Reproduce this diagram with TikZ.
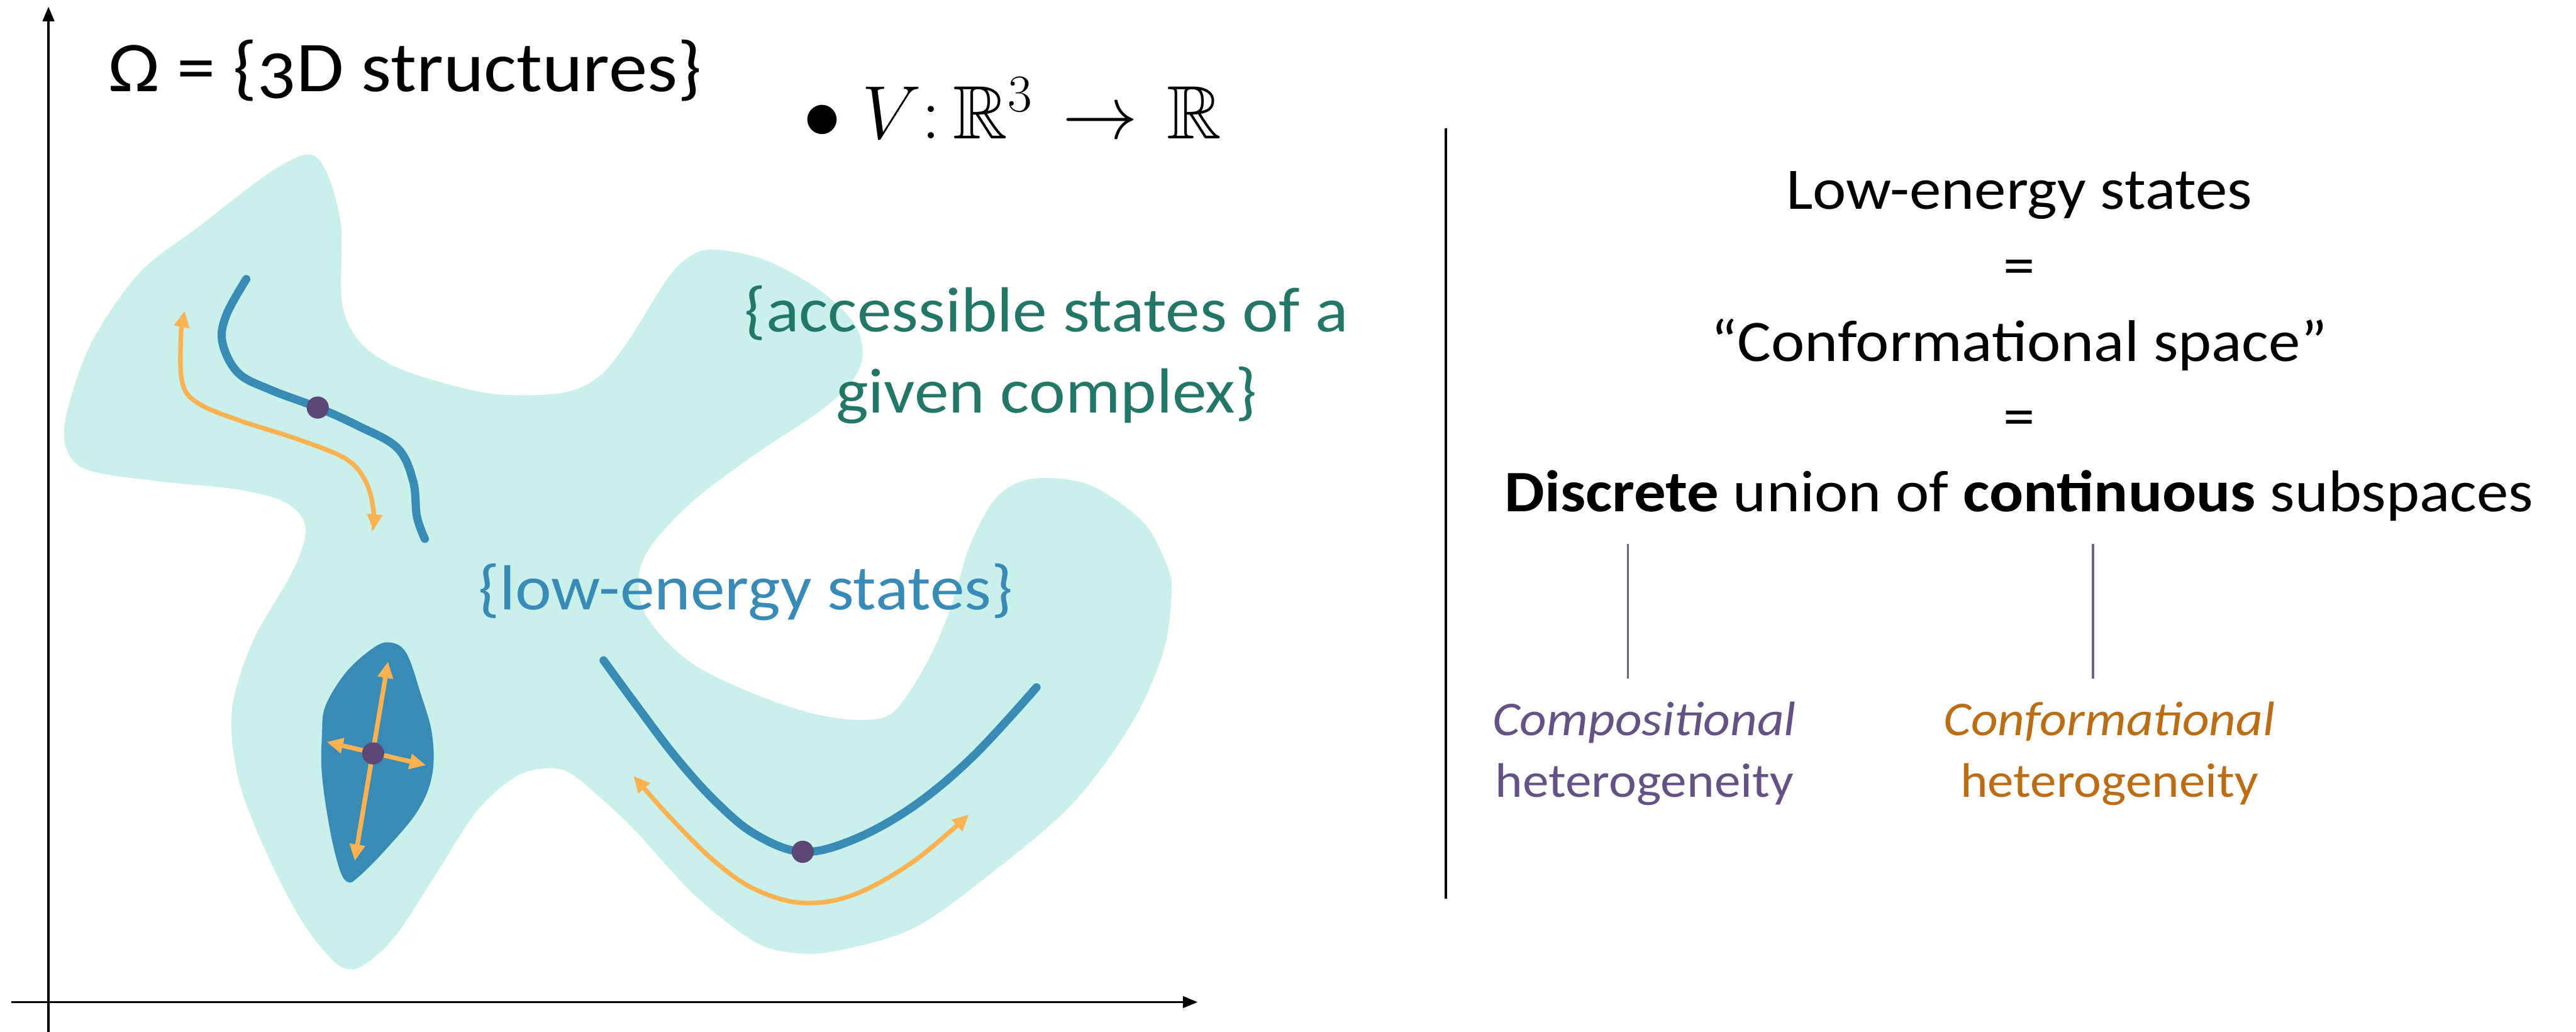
\RequirePackage{fix-cm}
\documentclass[tikz,border=0pt]{standalone}
\usepackage{amssymb}
\usepackage{fontspec}
\setmainfont{Carlito}[FakeStretch=1.08]
\newfontfamily\oldnum{Carlito}[FakeStretch=1.08,Numbers=OldStyle]
\usetikzlibrary{arrows.meta}
\definecolor{lightblob}{RGB}{202,240,235}
\definecolor{darkblob}{RGB}{55,139,181}
\definecolor{curveblue}{RGB}{55,139,181}
\definecolor{lowtxt}{RGB}{57,139,183}
\definecolor{acctxt}{RGB}{34,119,104}
\definecolor{arrorange}{RGB}{252,178,80}
\definecolor{dotpurple}{RGB}{92,71,118}
\definecolor{comptxt}{RGB}{100,82,135}
\definecolor{conftxt}{RGB}{188,108,18}
\definecolor{linkpurple}{RGB}{110,95,140}
\tikzset{
  txt/.style={inner sep=0pt, outer sep=0pt},
  axisline/.style={line width=1.5pt, black, -{Triangle[length=9pt,width=7pt]}},
  divider/.style={line width=1.3pt, black},
  linkline/.style={line width=1.2pt, linkpurple},
  bluecurve/.style={line width=5pt, curveblue, line cap=round},
  orangearr/.style={line width=2.8pt, arrorange, {Triangle[length=10pt,width=9pt]}-{Triangle[length=10pt,width=9pt]}},
  statedot/.style={circle, fill=dotpurple, minimum size=13.5pt, inner sep=0pt},
  bigfont/.style={font=\fontsize{43.5}{52}\selectfont},
  midfont/.style={font=\fontsize{38.8}{46}\selectfont},
  rightfont/.style={font=\fontsize{35.8}{43}\selectfont},
  smallfont/.style={font=\fontsize{29.5}{35}\selectfont},
  mathfont/.style={font=\fontsize{46}{55}\selectfont},
}
\begin{document}
\begin{tikzpicture}[x=1pt,y=-1pt]
\useasboundingbox (0,0) rectangle (1568,628);
\fill[white] (0,0) rectangle (1568,628);

% light region: accessible states
\fill[lightblob] plot[smooth cycle, tension=0.55] coordinates {
 (193,96) (207,133) (208,183) (218,207) (238,222) (266,232) (302,240) (343,239)
 (366,228) (384,205) (406,170) (420,156) (435,152) (465,158) (498,176) (520,197)
 (525,217) (517,234) (498,251) (459,277) (423,304) (398,330) (389,350) (394,376)
 (423,405) (471,427) (508,437) (537,437) (551,425) (568,396) (580,366) (590,333)
 (604,306) (619,294) (638,291) (665,296) (696,318) (711,346) (713,363) (708,397)
 (689,440) (653,489) (604,531) (556,565) (508,579) (483,580) (459,573) (423,545)
 (387,506) (367,487) (346,470) (329,468) (312,474) (290,494) (266,531) (242,568)
 (225,585) (214,590) (203,585) (184,561) (164,523) (147,481) (141,447) (143,422)
 (155,388) (179,346) (186,321) (174,306) (145,298) (97,293) (53,286) (40,272)
 (41,250) (56,208) (85,166) (121,138) (169,102)};

% dark region
\fill[darkblob] plot[smooth cycle, tension=0.6] coordinates {
 (236,391) (247,397) (256,422) (263,447) (263,472) (254,494) (234,518) (218,534)
 (212,537) (207,530) (201,506) (196,472) (196,447) (198,430) (210,410) (225,396)};

% blue curves
\draw[bluecurve] plot[smooth, tension=0.6] coordinates {
 (149.9,169.9) (137.8,191.7) (135.4,208.5) (145,227) (164.4,237.2) (193.4,248.1)
 (217.5,259) (241.7,272.5) (251.4,292.6) (253.8,314.5) (258.6,328)};
\draw[bluecurve] plot[smooth, tension=0.6] coordinates {
 (367.4,402) (386.8,428.5) (411,460.5) (435.1,487.4) (459.3,507.6) (488.3,518.5)
 (519.7,511) (556,490.8) (592.2,460.5) (630.9,418.4)};

% orange arrows
\draw[orangearr] plot[smooth, tension=0.6] coordinates {
 (112.4,189.2) (110,208.5) (111.2,233.8) (120.9,245.6) (145,255.7) (181.3,267.4)
 (210.3,279.2) (222.4,292.7) (227.2,309.5) (227.2,323)};
\draw[orangearr] plot[smooth, tension=0.6] coordinates {
 (385.6,472.3) (411,500.8) (435.1,524.4) (459.3,541.2) (488.3,549.6) (519.7,544.6)
 (556,524.4) (589.8,495.8)};
\coordinate (vtop) at (236.2,402.7);
\coordinate (vbot) at (215.9,524);
\coordinate (hleft) at (198.8,451.6);
\coordinate (hright) at (259.3,465.8);
\draw[orangearr] (vbot) -- (vtop);
\draw[orangearr] (hleft) -- (hright);

% state dots
\node[statedot] (dot1) at (193.4,248.1) {};
\node[statedot] (dot2) at (227.1,458.6) {};
\node[statedot] (dot3) at (488.6,518.5) {};

% axes
\coordinate (yaxb) at (29.5,628);
\coordinate (yaxt) at (29.5,4);
\coordinate (xaxl) at (7,610);
\coordinate (xaxr) at (729,610);
\draw[axisline] (yaxb) -- (yaxt);
\draw[axisline] (xaxl) -- (xaxr);

% left texts
\node[txt, bigfont, anchor=base west] (omega) at (66,55.8) {\oldnum Ω = \{3D structures\}};
\node[txt, mathfont, anchor=base west] (vmap) at (489,84.5) {$\bullet\; V{:}\,\mathbb{R}^3\mkern2mu\to\mkern2mu\mathbb{R}$};
\node[txt, midfont, acctxt, anchor=base] (acc1) at (637,201.8) {\{accessible states of a};
\node[txt, midfont, acctxt, anchor=base] (acc2) at (637,251.5) {given complex\}};
\node[txt, midfont, lowtxt, anchor=base] (low) at (453.8,371.3) {\{low-energy states\}};

% divider
\coordinate (divt) at (880,78);
\coordinate (divb) at (880,547);
\draw[divider] (divt) -- (divb);

% right texts
\node[txt, rightfont, anchor=base] (r1) at (1229,127.4) {Low-energy states};
\node[txt, rightfont, anchor=base] (r2) at (1229,173.6) {=};
\node[txt, rightfont, anchor=base] (r3) at (1229,219.9) {“Conformational space”};
\node[txt, rightfont, anchor=base] (r4) at (1229,265.6) {=};
\node[txt, rightfont, anchor=base] (r5) at (1229,311.3) {\textbf{Discrete} union of \textbf{continuous} subspaces};

\node[txt, smallfont, comptxt, anchor=base] (comp1) at (1001,447.6) {\textit{Compositional}};
\node[txt, smallfont, comptxt, anchor=base] (comp2) at (1001,485.4) {heterogeneity};
\node[txt, smallfont, conftxt, anchor=base] (conf1) at (1284,447.6) {\textit{Conformational}};
\node[txt, smallfont, conftxt, anchor=base] (conf2) at (1284,485.4) {heterogeneity};

\coordinate (l1t) at (991,331);
\coordinate (l1b) at (991,413);
\coordinate (l2t) at (1274,331);
\coordinate (l2b) at (1274,413);
\draw[linkline] (l1t) -- (l1b);
\draw[linkline] (l2t) -- (l2b);
\end{tikzpicture}
\end{document}
